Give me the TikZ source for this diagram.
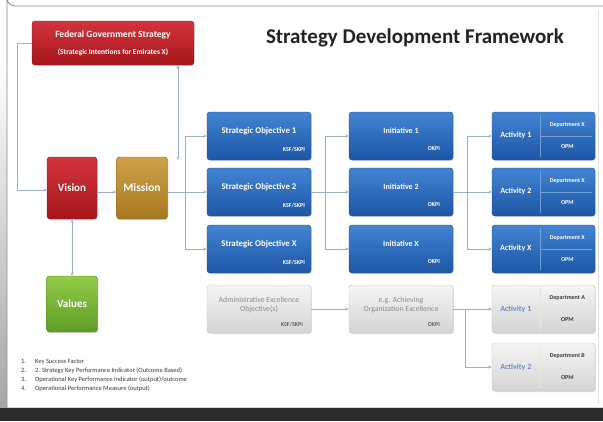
\documentclass[tikz,border=0pt]{standalone}
\usepackage{fontspec}
\setmainfont{Carlito}
\usetikzlibrary{arrows.meta,shadows,calc}
\definecolor{bluetop}{HTML}{4284D3}
\definecolor{bluebot}{HTML}{1D56A5}
\definecolor{blueedge}{HTML}{1A4B8E}
\definecolor{bluediv}{HTML}{6E9EDB}
\definecolor{redtop}{HTML}{D2343B}
\definecolor{redbot}{HTML}{A5161C}
\definecolor{rededge}{HTML}{8E1318}
\definecolor{goldtop}{HTML}{CFA24A}
\definecolor{goldbot}{HTML}{A67820}
\definecolor{goldedge}{HTML}{8C661C}
\definecolor{greentop}{HTML}{93CC46}
\definecolor{greenbot}{HTML}{5F9B29}
\definecolor{greenedge}{HTML}{547F26}
\definecolor{graytop}{HTML}{F5F5F5}
\definecolor{graybot}{HTML}{D4D4D4}
\definecolor{grayedge}{HTML}{C4C4C4}
\definecolor{graytext}{HTML}{8C8C8C}
\definecolor{grayblue}{HTML}{6E8DC0}
\definecolor{linecol}{HTML}{9AAFCB}
\definecolor{titlecol}{HTML}{222222}
\definecolor{legendcol}{HTML}{3A3A3A}
\definecolor{bandcol}{HTML}{2C2C2C}
\definecolor{paneledge}{HTML}{8A8A8A}
\tikzset{
  box/.style={rectangle, rounded corners=3pt, inner sep=0pt,
    drop shadow={opacity=0.25, shadow xshift=0.8pt, shadow yshift=-1pt}},
  bluebox/.style={box, top color=bluetop, bottom color=bluebot, draw=blueedge,
    minimum width=104pt, minimum height=48pt},
  graybox/.style={box, top color=graytop, bottom color=graybot, draw=grayedge,
    minimum width=104pt, minimum height=48pt},
  conn/.style={draw=linecol, line width=0.6pt},
  arr/.style={conn, -{Stealth[length=3.5pt,width=3pt]}},
  wlab/.style={text=white, font=\bfseries\fontsize{8}{9}\selectfont, inner sep=0pt},
  wsmall/.style={text=white, font=\bfseries\fontsize{6}{7}\selectfont, inner sep=0pt},
  glab/.style={text=graytext, font=\fontsize{7.8}{9.5}\selectfont, inner sep=0pt, align=center},
  gsmall/.style={text=graytext!70!black, font=\bfseries\fontsize{6}{7}\selectfont, inner sep=0pt},
  divline/.style={draw=bluediv, line width=0.5pt},
  gdivline/.style={draw=white!80!gray, line width=0.6pt},
}
\begin{document}
\begin{tikzpicture}[x=1pt,y=-1pt]
\useasboundingbox (0,0) rectangle (603,421);
% panel and background
\fill[white] (0,0) rectangle (603,421);
\shade[top color=white, bottom color=gray!70] (0,60) rectangle (8,408);
\draw[paneledge, line width=0.8pt, fill=white] (612,6) -- (15,6) arc[start angle=90, end angle=180, radius=8] -- (7,408) -- (612,408);
\draw[gray!25, line width=0.5pt] (598,10) -- (598,404);
\fill[bandcol] (0,408) rectangle (603,421);

% title
\node[font=\bfseries\fontsize{21}{25}\selectfont, text=titlecol] (title) at (415,38) {Strategy Development Framework};

% federal
\node[box, top color=redtop, bottom color=redbot, draw=rededge,
  minimum width=162pt, minimum height=44pt] (fed) at (113,43) {};
\node[wlab, font=\bfseries\fontsize{9.5}{11}\selectfont] (fedt) at ($(fed.north)+(0,14)$) {Federal Government Strategy};
\node[wsmall, font=\bfseries\fontsize{7.5}{8.5}\selectfont] (feds) at ($(fed.north)+(0,32)$) {(Strategic Intentions for Emirates X)};

% vision, mission, values
\node[box, top color=redtop, bottom color=redbot, draw=rededge,
  minimum width=50pt, minimum height=62pt] (vision) at (72,188) {};
\node[wlab, font=\bfseries\fontsize{11}{12}\selectfont] (visiont) at (vision) {Vision};
\node[box, top color=goldtop, bottom color=goldbot, draw=goldedge,
  minimum width=51pt, minimum height=62pt] (mission) at (142,188) {};
\node[wlab, font=\bfseries\fontsize{11.5}{12}\selectfont] (missiont) at (mission) {Mission};
\node[box, top color=greentop, bottom color=greenbot, draw=greenedge,
  minimum width=51pt, minimum height=56pt] (values) at (72,304) {};
\node[wlab, font=\bfseries\fontsize{11}{12}\selectfont] (valuest) at (values) {Values};

% strategic objectives
\foreach \n/\y/\lab in {so1/136/Strategic Objective 1, so2/192/Strategic Objective 2, sox/249/Strategic Objective X}{
  \node[bluebox] (\n) at (259,\y) {};
  \node[wlab, font=\bfseries\fontsize{8.8}{10}\selectfont] (\n-t) at ($(\n.north)+(0,19)$) {\lab};
  \node[wsmall, anchor=east] (\n-c) at ($(\n.north east)+(-6,38)$) {KSF/SKPI};
}
% initiatives
\foreach \n/\y/\lab in {in1/136/Initiative 1, in2/192/Initiative 2, inx/249/Initiative X}{
  \node[bluebox] (\n) at (401,\y) {};
  \node[wlab] (\n-t) at ($(\n.north)+(0,19)$) {\lab};
  \node[wsmall, anchor=east] (\n-c) at ($(\n.north east)+(-13,37)$) {OKPI};
}
% activities
\foreach \n/\y/\lab in {ac1/136/Activity 1, ac2/192/Activity 2, acx/249/Activity X}{
  \node[bluebox, minimum width=103pt] (\n) at (543.5,\y) {};
  \draw[divline] ($(\n.north west)+(48,3)$) -- ($(\n.south west)+(48,-3)$);
  \draw[divline] ($(\n.west)+(48,0)$) -- ($(\n.east)+(-3,0)$);
  \node[wlab] (\n-t) at ($(\n.west)+(24,-1)$) {\lab};
  \node[wsmall] (\n-d) at ($(\n.west)+(75.5,-11)$) {Department X};
  \node[wsmall] (\n-o) at ($(\n.west)+(75.5,11)$) {OPM};
}

% gray row
\node[graybox] (adm) at (259,309) {};
\node[glab] (adm-t) at ($(adm.north)+(0,20)$) {Administrative Excellence\\Objective(s)};
\node[gsmall, anchor=east] (adm-c) at ($(adm.north east)+(-8,40)$) {KSF/SKPI};
\node[graybox] (oe) at (401,309) {};
\node[glab] (oe-t) at ($(oe.north)+(0,20)$) {e.g. Achieving\\Organization Excellence};
\node[gsmall, anchor=east] (oe-c) at ($(oe.north east)+(-13,40)$) {OKPI};
\foreach \n/\y/\lab/\dep in {ga1/309/Activity 1/Department A, ga2/367/Activity 2/Department B}{
  \node[graybox, minimum width=103pt] (\n) at (543.5,\y) {};
  \draw[gdivline] ($(\n.north west)+(48,3)$) -- ($(\n.south west)+(48,-3)$);
  \draw[gdivline] ($(\n.west)+(48,0)$) -- ($(\n.east)+(-3,0)$);
  \node[text=grayblue, font=\bfseries\fontsize{8}{9}\selectfont, inner sep=0pt] (\n-t) at ($(\n.west)+(24,0)$) {\lab};
  \node[gsmall, text=legendcol] (\n-d) at ($(\n.west)+(75.5,-11)$) {\dep};
  \node[gsmall, text=legendcol] (\n-o) at ($(\n.west)+(75.5,11)$) {OPM};
}

% connectors
\draw[arr] (fed.west) -- ++(-15,0) |- ($(vision.west)+(0,2)$);
\draw[arr] ($(vision.east)+(0,4)$) -- ($(mission.west)+(0,4)$);
\draw[conn, {Stealth[length=3.5pt,width=3pt]}-{Stealth[length=3.5pt,width=3pt]}] (vision.south) -- (values.north);
\coordinate (j1) at (185,192);
\draw[conn] ($(mission.east)+(0,4)$) -- (j1);
\draw[conn] (j1 |- so1) -- (j1 |- sox);
\coordinate (fedfoot) at (178,160);
\draw[conn, {Stealth[length=3pt,width=2.5pt]}-{Stealth[length=3.5pt,width=3pt]}] (fedfoot) -- (fedfoot |- fed.south);
\foreach \n in {so1,so2,sox}{\draw[arr] (j1 |- \n) -- (\n.west);}
\coordinate (j2) at (325,192);
\draw[conn] (so2.east) -- (j2);
\draw[conn] (j2 |- in1) -- (j2 |- inx);
\foreach \n in {in1,in2,inx}{\draw[arr] (j2 |- \n) -- (\n.west);}
\coordinate (j3) at (467,192);
\draw[conn] (in2.east) -- (j3);
\draw[conn] (j3 |- ac1) -- (j3 |- acx);
\foreach \n in {ac1,ac2,acx}{\draw[arr] (j3 |- \n) -- (\n.west);}
\draw[arr] (adm.east) -- (oe.west);
\coordinate (j4) at (465,309);
\draw[conn] (oe.east) -- (j4);
\draw[arr] (j4) -- (ga1.west);
\draw[arr] (j4) |- (ga2.west);

% legend
\node[anchor=north west, inner sep=0pt, text=legendcol, font=\fontsize{6.5}{9}\selectfont] (legend) at (21,357)
{\begin{tabular}{@{}l@{\hspace{9pt}}l@{}}
1. & Key Success Factor\\
2. & 2. Strategy Key Performance Indicator (Outcome Based)\\
3. & Operational Key Performance Indicator (output)/outcome\\
4. & Operational Performance Measure (output)
\end{tabular}};
\end{tikzpicture}
\end{document}
